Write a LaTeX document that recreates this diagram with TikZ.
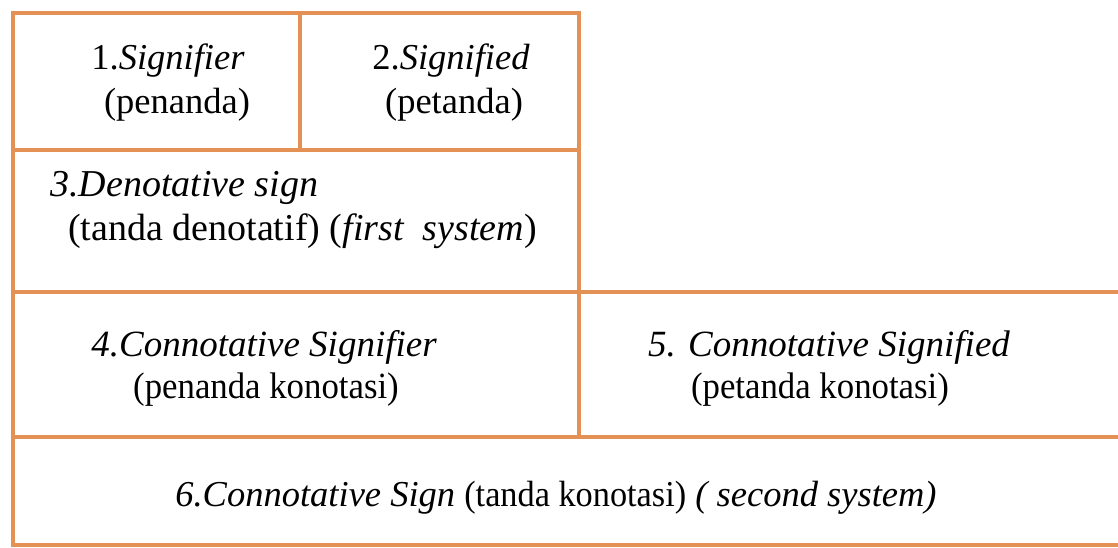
\documentclass[tikz,border=0pt]{standalone}
\usepackage{fontspec}
\setmainfont{Liberation Serif}
\newfontfamily\condf[FakeStretch=0.94]{Liberation Serif}
\definecolor{boxorange}{RGB}{228,145,85}
\tikzset{
  cell/.style={draw=boxorange, line width=4pt},
  lbl/.style={font=\fontsize{36.5}{44}\selectfont, inner sep=0pt, anchor=base},
  dlbl/.style={font=\fontsize{38}{44}\selectfont, inner sep=0pt, anchor=base west},
  ilbl/.style={font=\fontsize{37}{44}\selectfont\itshape, inner sep=0pt, anchor=base},
  clbl/.style={font=\condf\fontsize{37}{44}\selectfont, inner sep=0pt, anchor=base},
  slbl/.style={font=\fontsize{36.5}{44}\selectfont, inner sep=0pt, anchor=base}
}
\begin{document}
\begin{tikzpicture}[x=1pt,y=-1pt]
\useasboundingbox (0,0) rectangle (1118,547);
\fill[white] (0,0) rectangle (1118,547);
% cells
\draw[cell] (13,13) rectangle (300,150);
\draw[cell] (300,13) rectangle (579,150);
\draw[cell] (13,150) rectangle (579,292);
\draw[cell] (13,292) rectangle (579,437);
\draw[cell] (579,292) rectangle (1124,437);
\draw[cell] (13,437) rectangle (1124,545);
% labels
\node[lbl] (t1a) at (168,69) {1.\textit{Signifier}};
\node[lbl] (t1b) at (177,113) {(penanda)};
\node[lbl] (t2a) at (451,69) {2.\textit{Signified}};
\node[lbl] (t2b) at (454,113) {(petanda)};
\node[dlbl] (t3a) at (50,196) {\textit{3.Denotative sign}};
\node[dlbl] (t3b) at (68,240) {(tanda denotatif) (\textit{first\ \ system})};
\node[ilbl] (t4a) at (264,356) {4.Connotative Signifier};
\node[clbl] (t4b) at (266,398) {(penanda konotasi)};
\node[ilbl] (t5a) at (829,356) {5. Connotative Signified};
\node[clbl] (t5b) at (820,398) {(petanda konotasi)};
\node[slbl] (t6) at (556,506) {\textit{6.Connotative Sign} {\condf(tanda konotasi)} \textit{( second system)}};
\end{tikzpicture}
\end{document}
